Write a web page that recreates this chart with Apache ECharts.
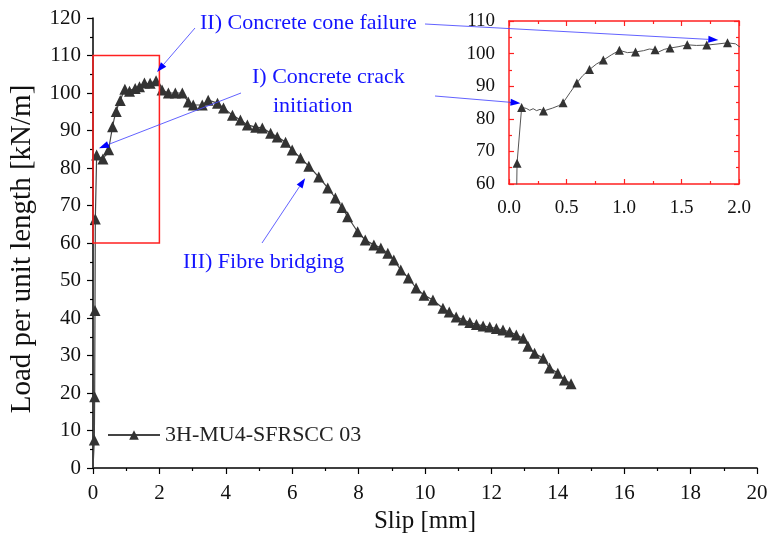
<!DOCTYPE html>
<html>
<head>
<meta charset="utf-8">
<script src="https://cdn.jsdelivr.net/npm/echarts@6/dist/echarts.min.js"></script>
<style>
  html, body { margin: 0; padding: 0; background: #fff; }
  #chart { width: 768px; height: 537px; }
</style>
</head>
<body>
<div id="chart"></div>
<script>
// Specimen 3H-MU4-SFRSCC 03: load per unit length against slip.
const seriesName = '3H-MU4-SFRSCC 03';

// Readings marked with a triangle
const markerSlip = [0.04, 0.05, 0.06, 0.07, 0.11, 0.30, 0.47, 0.59, 0.70, 0.82,
  0.96, 1.10, 1.27, 1.40, 1.55, 1.72, 1.90, 2.08, 2.27, 2.48,
  2.69, 2.87, 3.02, 3.29, 3.47, 3.75, 3.93, 4.20, 4.44, 4.65,
  4.90, 5.10, 5.35, 5.55, 5.80, 6.00, 6.25, 6.50, 6.80, 7.07,
  7.30, 7.50, 7.67, 7.97, 8.20, 8.46, 8.67, 8.88, 9.06, 9.27,
  9.50, 9.73, 9.97, 10.24, 10.54, 10.73, 10.94, 11.15, 11.35, 11.55,
  11.75, 11.95, 12.15, 12.35, 12.55, 12.75, 12.96, 13.10, 13.30, 13.56,
  13.75, 14.00, 14.20, 14.40];
const markerLoad = [7.5, 19, 42, 66.4, 83.5, 82.4, 84.9, 91, 95.1, 98,
  101, 100.5, 101.2, 101.7, 102.7, 102.6, 103.3, 100.8, 100, 100,
  100, 97.6, 96.8, 96.8, 98.1, 97.3, 96, 94.1, 92.8, 91.5,
  90.9, 90.7, 89.3, 88.3, 86.9, 84.8, 82.7, 80.5, 77.6, 74.7,
  72, 69.5, 67, 63, 60.8, 59.5, 58.7, 57.3, 55.5, 52.8,
  50.7, 48, 46.1, 44.8, 42.6, 41.6, 40.3, 39.5, 38.8, 38.3,
  37.9, 37.6, 37.2, 36.8, 36.3, 35.5, 34.6, 32.5, 30.6, 29.3,
  26.7, 25.3, 23.5, 22.5];

// Intermediate readings of the continuous trace (no marker)
const traceSlip = [0, 0.15, 0.18, 0.21, 0.24, 0.27, 0.38, 0.43, 0.53, 0.64,
  0.76, 0.89, 1.03, 1.17, 1.22, 1.30, 1.35, 1.47, 1.63, 1.80, 1.97, 2.00];
const traceLoad = [0, 83.2, 82.6, 83.1, 82.5, 82.9, 83.3, 84.0, 88.0, 93.2,
  96.8, 99.6, 100.3, 100.9, 101.4, 100.5, 101.3, 102.1, 102.5, 102.9, 103.0, 102.2];

// Zoomed window (inset) ranges
const insetSlipRange = [0, 2];
const insetLoadRange = [60, 110];

// Annotation texts
const notes = [
  { text: 'II) Concrete cone failure', x: 200, y: 23 },
  { text: 'I) Concrete crack', x: 252, y: 77 },
  { text: 'initiation', x: 273, y: 106 },
  { text: 'III) Fibre bridging', x: 183, y: 262 }
];
// Arrows: start in pixels, tip in data units of the given grid
const arrows = [
  { from: [195, 28], grid: 0, tip: [1.93, 105.6] },
  { from: [241, 93], grid: 0, tip: [0.18, 85.3] },
  { from: [262, 243], grid: 0, tip: [6.39, 77.3] },
  { from: [425, 24], grid: 1, tip: [1.82, 104.2] },
  { from: [435, 96], grid: 1, tip: [0.10, 84.8] }
];

const FONT = '"Liberation Serif", "Times New Roman", serif';

const points = markerSlip.map((x, i) => ({ x, y: markerLoad[i], m: true }))
  .concat(traceSlip.map((x, i) => ({ x, y: traceLoad[i], m: false })))
  .sort((a, b) => a.x - b.x);
const toItem = p => p.m ? { value: [p.x, p.y] } : { value: [p.x, p.y], symbol: 'none' };
const mainData = points.map(toItem);
const insetData = points.filter(p => p.x <= insetSlipRange[1] + 0.3).map(toItem);

const chart = echarts.init(document.getElementById('chart'), null, { renderer: 'canvas' });

const mainTick = { show: true, inside: false, length: 6, lineStyle: { color: '#000', width: 1.2 } };
const mainMinor = { show: true, splitNumber: 2, length: 3, lineStyle: { color: '#000', width: 1.2 } };
const red = '#ff2020';
const insetLine = { show: true, onZero: false, lineStyle: { color: red, width: 1.5 } };
const insetTick = { show: true, inside: true, length: 5, lineStyle: { color: red, width: 1.2 } };
const insetMinor = { show: true, splitNumber: 2, length: 3, lineStyle: { color: red, width: 1.2 } };

const lineSeriesBase = {
  type: 'line',
  name: seriesName,
  symbol: 'triangle',
  symbolSize: 11,
  showAllSymbol: true,
  clip: true,
  animation: false,
  itemStyle: { color: '#333' },
  lineStyle: { color: '#444', width: 1.2 }
};

chart.setOption({
  animation: false,
  backgroundColor: '#fff',
  textStyle: { fontFamily: FONT },
  grid: [
    { left: 93, right: 11, top: 18, bottom: 69, outerBoundsMode: 'none' },
    { left: 509, top: 21, width: 230, height: 163, outerBoundsMode: 'none', show: true, backgroundColor: 'rgba(255,255,255,0)', borderWidth: 0 }
  ],
  legend: {
    data: [seriesName],
    left: 102, top: 419,
    itemWidth: 52, itemHeight: 12, itemGap: 6,
    textStyle: { fontFamily: FONT, fontSize: 22, color: '#222' }
  },
  xAxis: [
    {
      type: 'value', gridIndex: 0, min: 0, max: 20, interval: 2,
      name: 'Slip [mm]', nameLocation: 'middle', nameGap: 41,
      nameTextStyle: { fontFamily: FONT, fontSize: 25, color: '#111' },
      axisLine: { show: true, onZero: false, lineStyle: { color: '#000', width: 1.5 } },
      axisTick: mainTick, minorTick: mainMinor,
      splitLine: { show: false },
      axisLabel: { fontFamily: FONT, fontSize: 21, color: '#111', margin: 15 }
    },
    {
      type: 'value', gridIndex: 1, min: insetSlipRange[0], max: insetSlipRange[1], interval: 0.5,
      axisLine: insetLine, axisTick: insetTick, minorTick: insetMinor,
      splitLine: { show: false },
      axisLabel: { fontFamily: FONT, fontSize: 19, color: '#111', margin: 15, formatter: v => v.toFixed(1) }
    },
    {
      type: 'value', gridIndex: 1, position: 'top', min: insetSlipRange[0], max: insetSlipRange[1], interval: 0.5,
      axisLine: insetLine, axisTick: insetTick, minorTick: insetMinor,
      splitLine: { show: false }, axisLabel: { show: false }
    }
  ],
  yAxis: [
    {
      type: 'value', gridIndex: 0, min: 0, max: 120, interval: 10,
      name: 'Load per unit length [kN/m]', nameLocation: 'middle', nameGap: 56,
      nameTextStyle: { fontFamily: FONT, fontSize: 29, color: '#111', padding: [0, 12, 0, 0] },
      axisLine: { show: true, onZero: false, lineStyle: { color: '#000', width: 1.5 } },
      axisTick: mainTick, minorTick: mainMinor,
      splitLine: { show: false },
      axisLabel: { fontFamily: FONT, fontSize: 21, color: '#111', margin: 12 }
    },
    {
      type: 'value', gridIndex: 1, min: insetLoadRange[0], max: insetLoadRange[1], interval: 10,
      axisLine: insetLine, axisTick: insetTick, minorTick: insetMinor,
      splitLine: { show: false },
      axisLabel: { fontFamily: FONT, fontSize: 19, color: '#111', margin: 14 }
    },
    {
      type: 'value', gridIndex: 1, position: 'right', min: insetLoadRange[0], max: insetLoadRange[1], interval: 10,
      axisLine: insetLine, axisTick: insetTick, minorTick: insetMinor,
      splitLine: { show: false }, axisLabel: { show: false }
    }
  ],
  series: [
    Object.assign({}, lineSeriesBase, { xAxisIndex: 0, yAxisIndex: 0, data: mainData }),
    Object.assign({}, lineSeriesBase, {
      xAxisIndex: 1, yAxisIndex: 1, data: insetData, symbolSize: 9,
      lineStyle: { color: '#555', width: 1 }
    })
  ]
});

// Red frame showing the zoomed window on the main axes, plus annotations
function drawOverlay() {
  const els = [];
  const p0 = chart.convertToPixel({ gridIndex: 0 }, [insetSlipRange[0], insetLoadRange[1]]);
  const p1 = chart.convertToPixel({ gridIndex: 0 }, [insetSlipRange[1], insetLoadRange[0]]);
  els.push({
    type: 'rect', z: 50,
    shape: { x: p0[0], y: p0[1], width: p1[0] - p0[0], height: p1[1] - p0[1] },
    style: { fill: 'none', stroke: red, lineWidth: 1.5 }
  });
  notes.forEach(n => els.push({
    type: 'text', z: 60, x: n.x, y: n.y,
    style: { text: n.text, fill: '#1414ff', font: '22px ' + FONT, verticalAlign: 'middle' }
  }));
  arrows.forEach(a => {
    const t = chart.convertToPixel({ gridIndex: a.grid }, a.tip);
    const dx = t[0] - a.from[0], dy = t[1] - a.from[1];
    const len = Math.hypot(dx, dy);
    const ux = dx / len, uy = dy / len;
    const L = 10, W = 3.5;
    const bx = t[0] - ux * L, by = t[1] - uy * L;
    els.push({
      type: 'line', z: 60,
      shape: { x1: a.from[0], y1: a.from[1], x2: bx, y2: by },
      style: { stroke: 'rgba(70,70,255,0.85)', lineWidth: 1 }
    });
    els.push({
      type: 'polygon', z: 61,
      shape: { points: [[t[0], t[1]], [bx - uy * W, by + ux * W], [bx + uy * W, by - ux * W]] },
      style: { fill: '#0000ff' }
    });
  });
  chart.setOption({ graphic: els });
}
drawOverlay();
</script>
</body>
</html>
